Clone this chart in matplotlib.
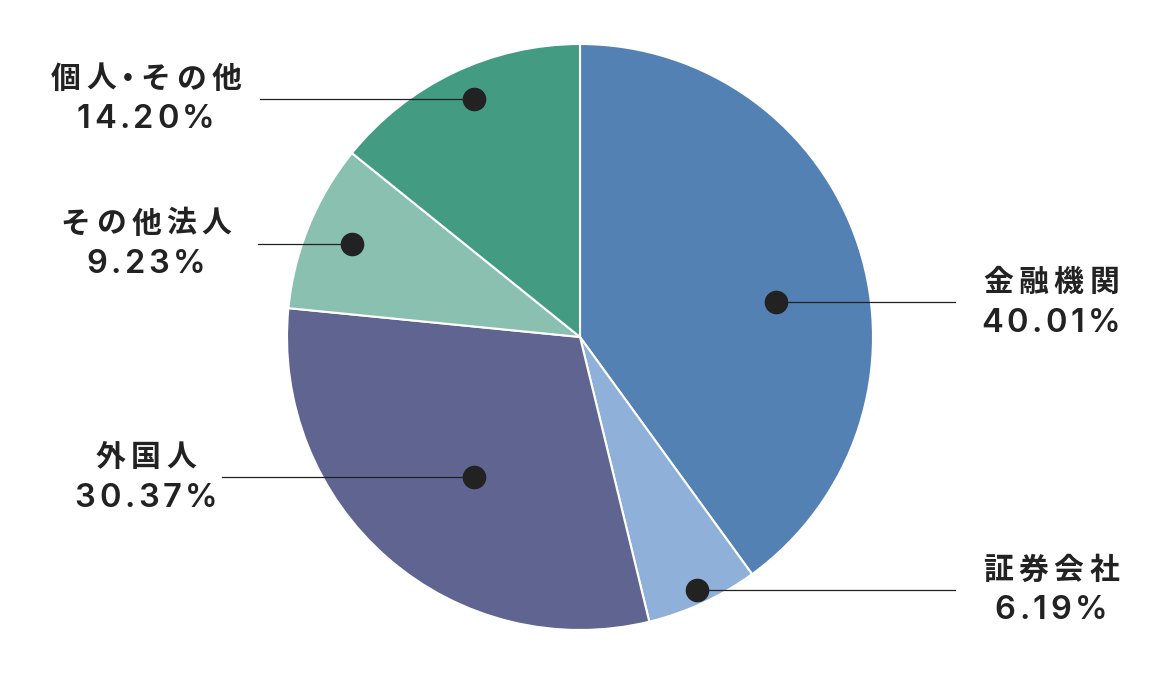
import matplotlib
matplotlib.use("Agg")
import matplotlib.pyplot as plt
import numpy as np

plt.rcParams['font.family'] = ['Noto Sans CJK JP', 'DejaVu Sans']

# ==========================================
# データ
# ==========================================
labels = ["金融機関", "証券会社", "外国人", "その他法人", "個人・その他"]
shares = [40.01, 6.19, 30.37, 9.23, 14.20]
colors = ["#5381b3", "#8fb1d9", "#5f6490", "#8ac0b0", "#439b82"]

# ラベル位置（レイアウト）
dot_frac = [0.68, 0.95, 0.60, 0.84, 0.89]     # 半径に対する点の位置
dot_dang = [-8.0, 0.0, 4.0, 0.0, -1.5]        # 中心角からのずれ (deg)
line_end = [955, 955, 222, 258, 260]          # 引き出し線の端 (px)
text_cx = [1051, 1051, 146, 146, 146]         # テキスト中央 (px)

W, H = 1160, 680
cx, cy, R = 580, H - 337, 293
ink = "#222222"

fig = plt.figure(figsize=(W / 100, H / 100), dpi=100)
ax = fig.add_axes([0, 0, 1, 1])

ax.pie(shares, colors=colors, startangle=90, counterclock=False,
       center=(cx, cy), radius=R,
       wedgeprops=dict(edgecolor="white", linewidth=1.5))
ax.set_xlim(0, W)
ax.set_ylim(0, H)
ax.set_aspect("equal")
ax.axis("off")

renderer = fig.canvas.get_renderer()


def spaced(x, y, s, size, weight, spacing, family=None):
    kw = dict(fontsize=size, fontweight=weight, color=ink, ha="left", va="center")
    if family:
        kw["family"] = family
    objs = [ax.text(0, y, ch, **kw) for ch in s]
    widths = [t.get_window_extent(renderer).width for t in objs]
    # 中黒は詰める
    shift = [w * 0.28 if ch == "・" else 0 for ch, w in zip(s, widths)]
    total = sum(widths) - 2 * sum(shift) + spacing * (len(s) - 1)
    cur = x - total / 2
    for t, w, sh in zip(objs, widths, shift):
        t.set_x(cur - sh)
        cur += w - 2 * sh + spacing


cum = np.cumsum([0] + shares)
for i, lab in enumerate(labels):
    mid = 90 - (cum[i] + cum[i + 1]) / 2 * 3.6 + dot_dang[i]
    r = R * dot_frac[i]
    dx = cx + r * np.cos(np.radians(mid))
    dy = cy + r * np.sin(np.radians(mid))
    ax.plot([dx, line_end[i]], [dy, dy], color=ink, linewidth=0.9, zorder=3)
    ax.plot(dx, dy, "o", color=ink, markersize=16, zorder=4)
    spaced(text_cx[i], dy + 20, lab, 21.5, "bold", 5.5)
    spaced(text_cx[i], dy - 21, f"{shares[i]:.2f}%", 23.5, 600, 3.5,
           family=["Inter", "Noto Sans CJK JP"])

fig.savefig("out.png", dpi=100)
